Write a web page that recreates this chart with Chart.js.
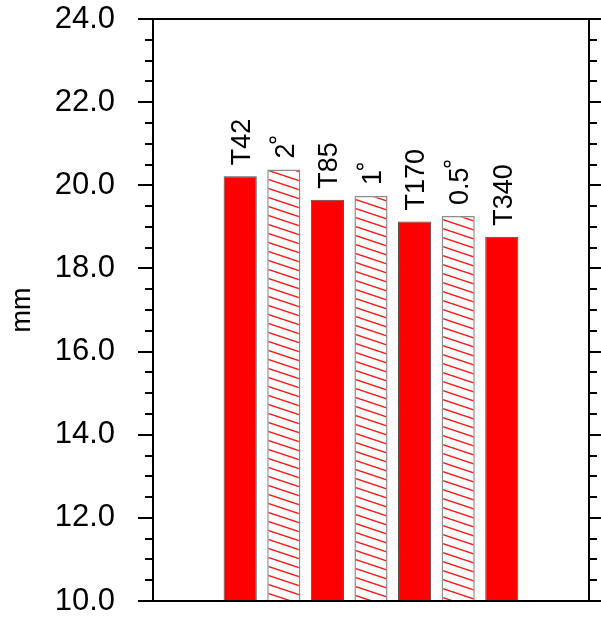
<!DOCTYPE html>
<html><head><meta charset="utf-8">
<script src="https://cdn.jsdelivr.net/npm/chart.js@4.4.1/dist/chart.umd.min.js"></script>
<style>html,body{margin:0;padding:0;background:#fff;} #wrap{width:601px;height:621px;}</style>
</head><body><div id="wrap"><canvas id="c" width="601" height="621"></canvas></div>
<script>
// ---- data ----
const categories = ['T42', '2°', 'T85', '1°', 'T170', '0.5°', 'T340'];
const positions = [2, 3, 4, 5, 6, 7, 8];
const values = [20.22, 20.38, 19.65, 19.74, 19.13, 19.26, 18.76];
const hatched = [false, true, false, true, false, true, false];
const yMin = 10, yMax = 24, yMajorStep = 2, yMinorStep = 0.5;
const xMin = 0, xMax = 10;
const axisTitle = 'mm';

const FONT = '"Liberation Sans", Arial, Helvetica, sans-serif';

function makeHatch() {
  const W = 27, H = 9;
  const c = document.createElement('canvas');
  c.width = W; c.height = H;
  const g = c.getContext('2d');
  g.fillStyle = '#fff'; g.fillRect(0, 0, W, H);
  g.strokeStyle = '#ff1a1a'; g.lineWidth = 1.4;
  for (const dy of [-H, 0, H]) {
    g.beginPath(); g.moveTo(-3, dy - 1); g.lineTo(W + 3, dy + H + 1); g.stroke();
  }
  return g.createPattern(c, 'repeat');
}

const extras = {
  id: 'extras',
  afterDraw(chart) {
    const ctx = chart.ctx, a = chart.chartArea, ys = chart.scales.y;
    ctx.save();
    ctx.strokeStyle = '#000'; ctx.lineWidth = 2;
    ctx.beginPath(); ctx.moveTo(a.left - 1, a.top); ctx.lineTo(a.right + 1, a.top); ctx.stroke();
    for (let v = yMin; v <= yMax + 1e-9; v += yMinorStep) {
      if (Math.abs(v / yMajorStep - Math.round(v / yMajorStep)) < 1e-6) continue;
      const p = Math.round(ys.getPixelForValue(v));
      ctx.beginPath();
      ctx.moveTo(a.left - 8, p); ctx.lineTo(a.left, p);
      ctx.moveTo(a.right, p); ctx.lineTo(a.right + 8, p);
      ctx.stroke();
    }
    const meta = chart.getDatasetMeta(0);
    ctx.fillStyle = '#000'; ctx.font = '27px ' + FONT;
    ctx.textAlign = 'left'; ctx.textBaseline = 'alphabetic';
    meta.data.forEach((bar, i) => {
      const txt = categories[i];
      const deg = txt.endsWith('°');
      const main = deg ? txt.slice(0, -1) : txt;
      ctx.save();
      ctx.translate(bar.x, bar.y - 11);
      ctx.rotate(-Math.PI / 2);
      ctx.fillText(main, 0, 9.7);
      if (deg) {
        const w = ctx.measureText(main).width;
        ctx.beginPath(); ctx.lineWidth = 1.3;
        ctx.arc(w + 3.5, -11, 2.8, 0, 2 * Math.PI); ctx.stroke();
      }
      ctx.restore();
    });
    ctx.restore();
  }
};

const hatch = makeHatch();
new Chart(document.getElementById('c'), {
  type: 'bar',
  data: { datasets: [{
    data: positions.map((x, i) => ({ x: x, y: values[i] })),
    backgroundColor: hatched.map(h => h ? hatch : '#ff0000'),
    borderColor: hatched.map(h => h ? '#8c8c8c' : '#4a4a4a'),
    borderWidth: hatched.map(h => h ? 1.5 : 1),
    barPercentage: 0.76, categoryPercentage: 1,
    base: yMin
  }]},
  options: {
    responsive: false, animation: false, events: [],
    layout: { padding: { top: 19, left: 0, right: 0, bottom: 0 } },
    plugins: { legend: { display: false }, tooltip: { enabled: false } },
    scales: {
      x: { type: 'linear', min: xMin, max: xMax, offset: false, position: 'bottom',
        ticks: { display: false }, grid: { display: false },
        border: { display: true, color: '#000', width: 2 },
        afterFit(s) { s.height = 20; s.paddingLeft = 0; s.paddingRight = 0; } },
      y: { type: 'linear', position: 'left', min: yMin, max: yMax,
        ticks: { stepSize: yMajorStep, callback: v => Number(v).toFixed(1), color: '#000',
          font: { family: FONT, size: 31 }, padding: 23 },
        grid: { drawOnChartArea: false, drawTicks: true, tickLength: 15, color: '#000', lineWidth: 2 },
        border: { display: true, color: '#000', width: 2 },
        title: { display: true, text: axisTitle, color: '#000', font: { family: FONT, size: 27 },
          padding: { top: 6, bottom: 4 } },
        afterFit(s) { s.width = 153; s.paddingTop = 0; s.paddingBottom = 0; } },
      y2: { type: 'linear', position: 'right', min: yMin, max: yMax,
        ticks: { display: false, stepSize: yMajorStep },
        grid: { drawOnChartArea: false, drawTicks: true, tickLength: 12, color: '#000', lineWidth: 2 },
        border: { display: true, color: '#000', width: 2 },
        afterFit(s) { s.width = 12; s.paddingTop = 0; s.paddingBottom = 0; } }
    }
  },
  plugins: [extras]
});
</script>
</body></html>
